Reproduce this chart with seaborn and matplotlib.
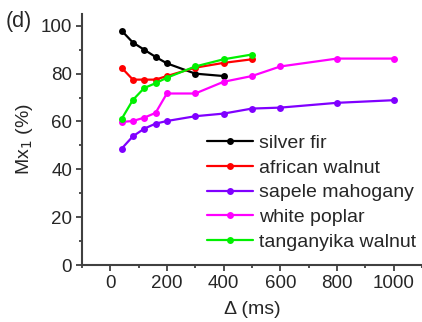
import matplotlib
matplotlib.use("Agg")
import matplotlib.pyplot as plt
from matplotlib.ticker import MultipleLocator
import seaborn as sns
import pandas as pd

# Mx1 fraction vs. delay for five wood species
delta_short = [40, 80, 120, 160, 200, 300, 400]
delta_mid = [40, 80, 120, 160, 200, 300, 400, 500]
delta_long = [40, 80, 120, 160, 200, 300, 400, 500, 600, 800, 1000]

silver_fir = [98, 93, 90, 87, 84.3, 80, 79]
african_walnut = [82.5, 77.5, 77.5, 77.5, 79, 82.5, 84.5, 86]
sapele_mahogany = [48.6, 53.8, 57, 59.1, 60.2, 62.2, 63.3, 65.4, 65.8, 67.8, 68.9]
white_poplar = [59.8, 60.2, 61.6, 63.6, 71.7, 71.7, 76.6, 79, 83, 86.3, 86.3]
tanganyika_walnut = [61, 69, 74, 76, 78.3, 83, 86, 88]

series = [
    ("silver fir", delta_short, silver_fir, "#000000"),
    ("african walnut", delta_mid, african_walnut, "#ff0000"),
    ("sapele mahogany", delta_long, sapele_mahogany, "#8000ff"),
    ("white poplar", delta_long, white_poplar, "#ff00ff"),
    ("tanganyika walnut", delta_mid, tanganyika_walnut, "#00f000"),
]

frames = []
for name, xs, ys, _ in series:
    frames.append(pd.DataFrame({"delta": xs, "mx1": ys, "species": name}))
df = pd.concat(frames, ignore_index=True)
palette = {name: color for name, _, _, color in series}

sns.set_style("ticks")
plt.rcParams["font.family"] = ["Liberation Sans", "DejaVu Sans"]

fig = plt.figure(figsize=(4.22, 3.22), dpi=100)
ax = fig.add_axes([0.194, 0.177, 0.806, 0.78])

sns.lineplot(data=df, x="delta", y="mx1", hue="species", palette=palette,
             hue_order=[s[0] for s in series], marker="o", markersize=5,
             markeredgewidth=0, linewidth=1.6, sort=False, ax=ax)

ax.set_xlim(-100, 1100)
ax.set_ylim(0, 105)
ax.xaxis.set_major_locator(MultipleLocator(200))
ax.xaxis.set_minor_locator(MultipleLocator(100))
ax.yaxis.set_major_locator(MultipleLocator(20))
ax.yaxis.set_minor_locator(MultipleLocator(10))

for side in ("top", "right"):
    ax.spines[side].set_visible(False)
for side in ("left", "bottom"):
    ax.spines[side].set_color("#404040")
    ax.spines[side].set_linewidth(1.5)
ax.tick_params(which="major", length=4, width=1.3, color="#404040",
               labelsize=13.5, pad=3)
ax.tick_params(which="minor", length=2.5, width=1.3, color="#404040")

ax.set_xlabel("Δ (ms)", fontsize=14, labelpad=7)
ax.set_ylabel("Mx$_1$ (%)", fontsize=14, labelpad=4)

leg = ax.legend(loc="upper left", bbox_to_anchor=(0.4905, 0.582),
                bbox_transform=fig.transFigure, frameon=False,
                fontsize=14, handlelength=2.37, handletextpad=0.3,
                labelspacing=0.36, borderpad=0, borderaxespad=0)

fig.text(0.014, 0.932, "(d)", fontsize=15.5, va="center")

fig.savefig("out.png", dpi=100)
